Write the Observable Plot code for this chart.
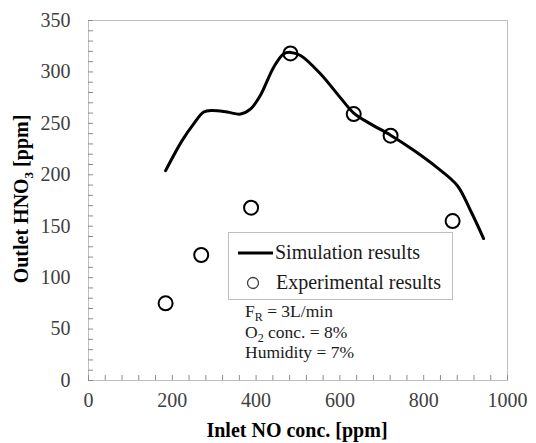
<!DOCTYPE html>
<html>
<head>
<meta charset="utf-8">
<script src="https://cdn.jsdelivr.net/npm/d3@7"></script>
<script src="https://cdn.jsdelivr.net/npm/@observablehq/plot@0.6"></script>
<style>
  html, body { margin: 0; padding: 0; background: #fff; }
  #chart { position: relative; width: 536px; height: 443px; }
  #chart svg text { font-family: "Liberation Serif", "Times New Roman", serif; }
</style>
</head>
<body>
<div id="chart"></div>
<script>
// Experimental results (circles)
const expX = [184, 269, 388, 482, 633, 721, 869];
const expY = [75, 122, 168, 318, 259, 238, 155];

// Simulation results (smooth line)
const simX = [184, 223, 251, 275, 295, 331, 363, 387, 410, 442, 466, 482, 506, 554, 601, 633, 673, 721, 777, 832, 880, 912, 943];
const simY = [204, 233, 249.5, 261, 262.5, 261, 259, 264, 277, 304.6, 317.6, 319, 316, 298, 275, 260, 249.5, 238.5, 223.6, 207, 189.6, 165, 138];

// Tick labels
const xTicks = [0, 200, 400, 600, 800, 1000];
const yTicks = [0, 50, 100, 150, 200, 250, 300, 350];
const xMinor = d3.range(0, 1001, 40);
const yMinor = d3.range(0, 351, 10);

const exp = expX.map((x, i) => ({x, y: expY[i]}));
const sim = simX.map((x, i) => ({x, y: simY[i]}));

const serif = "Liberation Serif";

const chart = Plot.plot({
  width: 536,
  height: 443,
  marginLeft: 88,
  marginRight: 29,
  marginTop: 20,
  marginBottom: 63,
  style: {fontFamily: serif, fontSize: "20px", background: "white"},
  x: {domain: [0, 1000]},
  y: {domain: [0, 350]},
  marks: [
    Plot.frame({stroke: "#bfbfbf", fill: "none"}),
    // inward minor ticks on the axes
    Plot.ruleX(xMinor, {x: d => d, y1: 0, y2: 0, insetBottom: 5, stroke: "#8c8c8c", strokeWidth: 1}),
    Plot.ruleY(yMinor, {y: d => d, x1: 0, x2: 12, stroke: "#8c8c8c", strokeWidth: 1}),
    Plot.axisX({ticks: xTicks, tickSize: 0, tickPadding: 12, tickFormat: d => String(d), fill: "#404040", label: null, fontSize: 20, fontFamily: serif}),
    Plot.axisY({ticks: yTicks, tickSize: 0, tickPadding: 18, tickFormat: d => String(d), fill: "#404040", label: null, fontSize: 20, fontFamily: serif}),
    Plot.line(sim, {x: "x", y: "y", curve: "catmull-rom", stroke: "black", strokeWidth: 3}),
    Plot.dot(exp, {x: "x", y: "y", r: 7, stroke: "black", strokeWidth: 2, fill: "none"})
  ]
});

document.getElementById("chart").appendChild(chart);

const svg = d3.select(chart).attr("font-family", serif);

// Axis titles
svg.append("text")
  .attr("x", 297).attr("y", 437)
  .attr("text-anchor", "middle")
  .attr("font-size", 20).attr("font-weight", "bold")
  .attr("fill", "black")
  .text("Inlet NO conc. [ppm]");

const yt = svg.append("text")
  .attr("transform", "translate(28,199) rotate(-90)")
  .attr("text-anchor", "middle")
  .attr("font-size", 20).attr("font-weight", "bold")
  .attr("fill", "black");
yt.append("tspan").text("Outlet HNO");
yt.append("tspan").attr("font-size", 13).attr("dy", 5).text("3");
yt.append("tspan").attr("dy", -5).text(" [ppm]");

// Legend
const lg = svg.append("g").attr("text-anchor", "start");
lg.append("rect").attr("x", 228.5).attr("y", 232.5).attr("width", 224).attr("height", 67)
  .attr("fill", "white").attr("stroke", "#bfbfbf");
lg.append("line").attr("x1", 238).attr("x2", 273).attr("y1", 253).attr("y2", 253)
  .attr("stroke", "black").attr("stroke-width", 3);
lg.append("text").attr("x", 275).attr("y", 259)
  .attr("font-size", 20).attr("fill", "#1a1a1a")
  .text("Simulation results");
lg.append("circle").attr("cx", 253).attr("cy", 283).attr("r", 5.5)
  .attr("fill", "none").attr("stroke", "#404040").attr("stroke-width", 1.3);
lg.append("text").attr("x", 276).attr("y", 289)
  .attr("font-size", 20).attr("fill", "#1a1a1a")
  .text("Experimental results");

// Annotation
const ann = svg.append("g").attr("text-anchor", "start").attr("font-size", 17.5).attr("fill", "#1a1a1a");
const a1 = ann.append("text").attr("x", 245).attr("y", 317);
a1.append("tspan").text("F");
a1.append("tspan").attr("font-size", 12).attr("dy", 4).text("R");
a1.append("tspan").attr("dy", -4).text(" = 3L/min");
const a2 = ann.append("text").attr("x", 245).attr("y", 338);
a2.append("tspan").text("O");
a2.append("tspan").attr("font-size", 12).attr("dy", 4).text("2");
a2.append("tspan").attr("dy", -4).text(" conc. = 8%");
ann.append("text").attr("x", 245).attr("y", 358).text("Humidity = 7%");
</script>
</body>
</html>
